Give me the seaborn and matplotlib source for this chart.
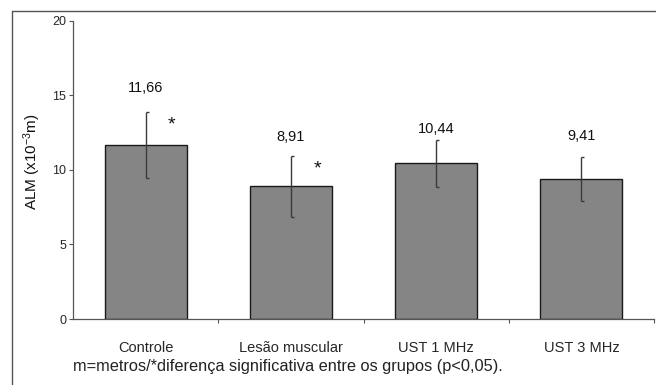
import matplotlib
matplotlib.use("Agg")
import matplotlib.pyplot as plt
import seaborn as sns
import pandas as pd
import numpy as np
from matplotlib.lines import Line2D

categories = ["Controle", "Lesão muscular", "UST 1 MHz", "UST 3 MHz"]
means = [11.66, 8.91, 10.44, 9.41]
sds = [2.20, 2.04, 1.58, 1.47]
value_labels = ["11,66", "8,91", "10,44", "9,41"]
label_y = [15.47, 12.21, 12.77, 12.26]
star_cats = [0, 1]
star_y = [13.0, 10.05]
yticks = [0, 5, 10, 15, 20]
footnote = "m=metros/*diferença significativa entre os grupos (p<0,05)."

sns.set_theme(style="white")
plt.rcParams['font.family'] = ['Liberation Sans', 'DejaVu Sans']
plt.rcParams['mathtext.fontset'] = 'custom'
plt.rcParams['mathtext.rm'] = 'Liberation Sans'
plt.rcParams['mathtext.it'] = 'Liberation Sans'

df = pd.DataFrame({"cat": categories, "val": means})

fig = plt.figure(figsize=(6.56, 3.85), dpi=100)
ax = fig.add_axes([73/656, 1-319/385, (654-73)/656, (319-20.7)/385])

sns.barplot(data=df, x="cat", y="val", color="#858585", saturation=1,
            edgecolor="#1a1a1a", linewidth=1.0, width=0.565, errorbar=None, ax=ax)

x = np.arange(len(categories))
ax.errorbar(x, means, yerr=sds, fmt="none", ecolor="#3a3a3a", elinewidth=1.0, capsize=0)
cap = 0.02
ax.hlines([m + s for m, s in zip(means, sds)], x, x + cap, color="#3a3a3a", lw=1.0)
ax.hlines([m - s for m, s in zip(means, sds)], x, x + cap, color="#3a3a3a", lw=1.0)

for xi, lab, ly in zip(x, value_labels, label_y):
    ax.text(xi, ly, lab, ha="center", va="center", fontsize=10.5, color="#111111")

for ci, sy in zip(star_cats, star_y):
    ax.text(ci + 0.18, sy, "*", ha="center", va="center", fontsize=14, color="#111111")

ax.set_ylim(0, 20)
ax.set_xlim(-0.5, len(categories) - 0.5)
ax.set_yticks(yticks)
ax.set_yticklabels([str(t) for t in yticks], fontsize=9)
ax.set_xticks(x)
ax.set_xticklabels(categories, fontsize=10.5)
ax.tick_params(axis="x", length=0, pad=16)
ax.tick_params(axis="y", length=3, width=0.8, color="#555555", pad=2, left=True)
ax.set_xticks(np.arange(len(categories)) + 0.5, minor=True)
ax.tick_params(axis="x", which="minor", length=3, width=0.8, color="#555555", bottom=True)
ax.set_xlabel("")
ax.set_ylabel("")
for s in ["top", "right"]:
    ax.spines[s].set_visible(False)
for s in ["left", "bottom"]:
    ax.spines[s].set_color("#555555")
    ax.spines[s].set_linewidth(0.9)

fig.text(32/656, 1-162/385, "ALM (x10$^{-3}$m)", rotation=90, ha="center", va="center",
         fontsize=11, color="#111111")
fig.text(73/656, 1-367/385, footnote, ha="left", va="center", fontsize=11.8,
         color="#222222")

fig.add_artist(Line2D([12/656, 12/656], [0, 1-10.5/385], transform=fig.transFigure,
                      color="#555555", lw=1.0))
fig.add_artist(Line2D([12/656, 1], [1-10.5/385, 1-10.5/385], transform=fig.transFigure,
                      color="#555555", lw=1.0))

fig.savefig("out.png", dpi=100)
